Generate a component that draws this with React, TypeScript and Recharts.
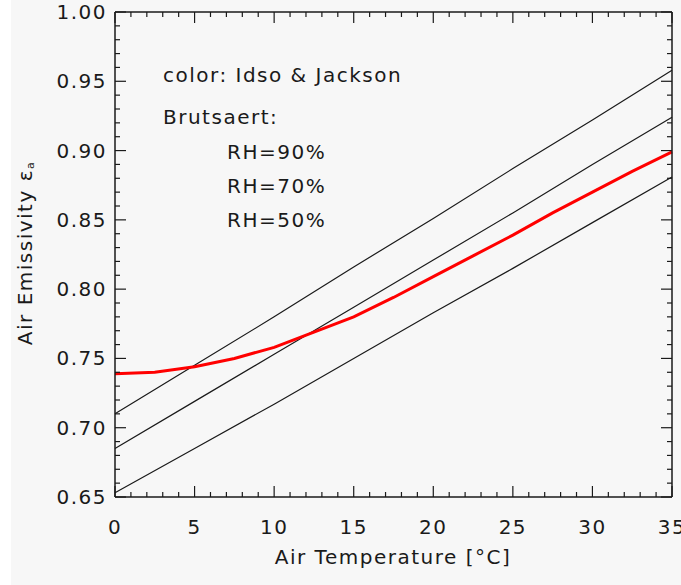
import { LineChart, Line, XAxis, YAxis } from 'recharts'

// Idso & Jackson (red) sampled every 2.5 °C, Brutsaert curves every 5 °C
const TEMP_FINE = [0, 2.5, 5, 7.5, 10, 12.5, 15, 17.5, 20, 22.5, 25, 27.5, 30, 32.5, 35]
const IDSO_JACKSON = [0.739, 0.740, 0.744, 0.750, 0.758, 0.769, 0.780, 0.794, 0.809, 0.824, 0.839, 0.855, 0.870, 0.885, 0.899]

const TEMP = [0, 5, 10, 15, 20, 25, 30, 35]
const RH90 = [0.710, 0.745, 0.780, 0.816, 0.851, 0.887, 0.922, 0.958]
const RH70 = [0.685, 0.719, 0.753, 0.787, 0.821, 0.855, 0.890, 0.924]
const RH50 = [0.653, 0.685, 0.717, 0.750, 0.783, 0.815, 0.848, 0.881]

const X_LABELS = [0, 5, 10, 15, 20, 25, 30, 35]
const Y_LABELS = [0.65, 0.70, 0.75, 0.80, 0.85, 0.90, 0.95, 1.00]

// minor ticks every 1 °C and every 0.01
const X_TICKS = Array.from({ length: 36 }, (_, i) => i)
const Y_TICKS = Array.from({ length: 36 }, (_, i) => Number((0.65 + i * 0.01).toFixed(2)))

const X_MIN = 0
const X_MAX = 35
const Y_MIN = 0.65
const Y_MAX = 1.0

const idsoData = TEMP_FINE.map((t, i) => ({ t, v: IDSO_JACKSON[i] }))
const rh90Data = TEMP.map((t, i) => ({ t, v: RH90[i] }))
const rh70Data = TEMP.map((t, i) => ({ t, v: RH70[i] }))
const rh50Data = TEMP.map((t, i) => ({ t, v: RH50[i] }))

// tick anchor rows along the four edges of the frame
const bottomTicks = X_TICKS.map((t) => ({ t, v: Y_MIN }))
const topTicks = X_TICKS.map((t) => ({ t, v: Y_MAX }))
const leftTicks = Y_TICKS.map((v) => ({ t: X_MIN, v }))
const rightTicks = Y_TICKS.map((v) => ({ t: X_MAX, v }))

const W = 681
const H = 585
const MAJOR = 11
const MINOR = 5
const INK = '#1a1a1a'
const FONT = '"DejaVu Sans", sans-serif'

const isMajorX = (v: number) => X_LABELS.includes(v)
const isMajorY = (v: number) => Y_LABELS.some((l) => Math.abs(l - v) < 1e-6)

const textStyle = { fontFamily: FONT, fontSize: 20, letterSpacing: 1.5, fill: INK }

const BottomTick = (p: any) => {
  const t = p.payload.t
  const len = isMajorX(t) ? MAJOR : MINOR
  return (
    <g key={`b${t}`}>
      <line x1={p.cx} x2={p.cx} y1={p.cy} y2={p.cy - len} stroke={INK} strokeWidth={1.2} />
      {isMajorX(t) && (
        <text x={p.cx} y={p.cy + 30} textAnchor="middle" dominantBaseline="central" style={textStyle}>
          {t}
        </text>
      )}
    </g>
  )
}

const TopTick = (p: any) => {
  const len = isMajorX(p.payload.t) ? MAJOR : MINOR
  return (
    <line key={`t${p.payload.t}`} x1={p.cx} x2={p.cx} y1={p.cy} y2={p.cy + len}
      stroke={INK} strokeWidth={1.2} />
  )
}

const LeftTick = (p: any) => {
  const v = p.payload.v
  const len = isMajorY(v) ? MAJOR : MINOR
  return (
    <g key={`l${v}`}>
      <line x1={p.cx} x2={p.cx + len} y1={p.cy} y2={p.cy} stroke={INK} strokeWidth={1.2} />
      {isMajorY(v) && (
        <text x={p.cx - 8} y={p.cy} textAnchor="end" dominantBaseline="central" style={textStyle}>
          {v.toFixed(2)}
        </text>
      )}
    </g>
  )
}

const RightTick = (p: any) => {
  const len = isMajorY(p.payload.v) ? MAJOR : MINOR
  return (
    <line key={`r${p.payload.v}`} x1={p.cx} x2={p.cx - len} y1={p.cy} y2={p.cy}
      stroke={INK} strokeWidth={1.2} />
  )
}

export default function App() {
  return (
    <div style={{ position: 'absolute', left: 0, top: 0, width: W, height: H, background: '#f7f7f7' }}>
      <div style={{ position: 'absolute', left: 0, top: 0, width: 11, height: H, background: '#fff' }} />
      <LineChart width={W} height={H} margin={{ top: 12, right: 9, bottom: 0, left: 0 }}>
        <XAxis xAxisId="b" type="number" dataKey="t" domain={[X_MIN, X_MAX]} height={88}
          tick={false} stroke={INK} strokeWidth={1.5} />
        <YAxis yAxisId="l" type="number" domain={[Y_MIN, Y_MAX]} width={115}
          tick={false} stroke={INK} strokeWidth={1.5} />

        <Line xAxisId="b" yAxisId="l" data={rh90Data} dataKey="v" stroke={INK} strokeWidth={1.2}
          dot={false} activeDot={false} isAnimationActive={false} />
        <Line xAxisId="b" yAxisId="l" data={rh70Data} dataKey="v" stroke={INK} strokeWidth={1.2}
          dot={false} activeDot={false} isAnimationActive={false} />
        <Line xAxisId="b" yAxisId="l" data={rh50Data} dataKey="v" stroke={INK} strokeWidth={1.2}
          dot={false} activeDot={false} isAnimationActive={false} />
        <Line xAxisId="b" yAxisId="l" data={idsoData} dataKey="v" stroke="#ff0000" strokeWidth={3}
          dot={false} activeDot={false} isAnimationActive={false} />

        {/* frame edges + inward ticks, placed through the chart scales */}
        <Line xAxisId="b" yAxisId="l" data={bottomTicks} dataKey="v" stroke="none"
          dot={(p: any) => <BottomTick key={`b${p.payload.t}`} {...p} />} activeDot={false} isAnimationActive={false} />
        <Line xAxisId="b" yAxisId="l" data={topTicks} dataKey="v" stroke={INK} strokeWidth={1.5}
          dot={(p: any) => <TopTick key={`t${p.payload.t}`} {...p} />} activeDot={false} isAnimationActive={false} />
        <Line xAxisId="b" yAxisId="l" data={leftTicks} dataKey="v" stroke="none"
          dot={(p: any) => <LeftTick key={`l${p.payload.v}`} {...p} />} activeDot={false} isAnimationActive={false} />
        <Line xAxisId="b" yAxisId="l" data={rightTicks} dataKey="v" stroke={INK} strokeWidth={1.5}
          dot={(p: any) => <RightTick key={`r${p.payload.v}`} {...p} />} activeDot={false} isAnimationActive={false} />

        <text x={393} y={557} textAnchor="middle" dominantBaseline="central" style={textStyle}>
          Air Temperature [°C]
        </text>
        <text x={25} y={253} textAnchor="middle" dominantBaseline="central"
          transform="rotate(-90 25 253)" style={textStyle}>
          Air Emissivity ε<tspan fontSize={11} dy={5}>a</tspan>
        </text>
        <text x={163} y={75} dominantBaseline="central" style={textStyle}>color: Idso &amp; Jackson</text>
        <text x={163} y={117} dominantBaseline="central" style={textStyle}>Brutsaert:</text>
        <text x={227} y={152} dominantBaseline="central" style={textStyle}>RH=90%</text>
        <text x={227} y={186} dominantBaseline="central" style={textStyle}>RH=70%</text>
        <text x={227} y={220} dominantBaseline="central" style={textStyle}>RH=50%</text>
      </LineChart>
    </div>
  )
}
